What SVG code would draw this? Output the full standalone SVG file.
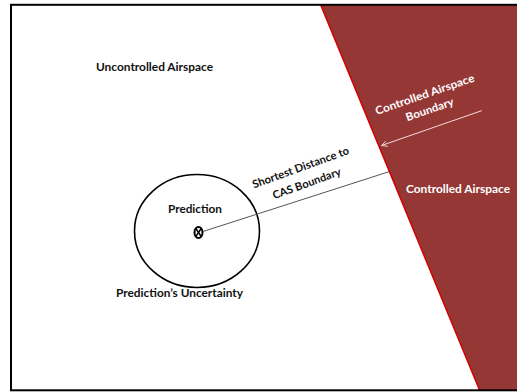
<svg xmlns="http://www.w3.org/2000/svg" width="517" height="392" viewBox="0 0 517 392">
<style>
  .lbl { font-family: Lato, "Open Sans", "Liberation Sans", sans-serif; font-weight: bold; font-size: 11px; }
  .dark { fill: #111111; }
  .light { fill: #ffffff; }
</style>
<defs>
  <marker id="openArrow" viewBox="0 0 10 10" refX="9" refY="5" markerWidth="7" markerHeight="7" orient="auto" markerUnits="userSpaceOnUse">
    <path d="M1,1 L9,5 L1,9" fill="none" stroke="#f2dcdb" stroke-width="1.2"/>
  </marker>
</defs>
<rect x="0" y="0" width="517" height="392" fill="#ffffff"/>
<g id="controlled-airspace">
  <polygon points="320.7,5 517,5 517,390 479.5,390" fill="#953735"/>
  <line x1="320.7" y1="5" x2="479.5" y2="390" stroke="#d40000" stroke-width="1.5"/>
  <text class="lbl light" x="406" y="192.5" textLength="104" lengthAdjust="spacingAndGlyphs">Controlled Airspace</text>
</g>
<rect x="11" y="4.8" width="520" height="385.5" fill="none" stroke="#000000" stroke-width="2"/>
<g id="uncontrolled-airspace">
  <text class="lbl dark" x="96" y="71" textLength="117" lengthAdjust="spacingAndGlyphs">Uncontrolled Airspace</text>
</g>
<g id="uncertainty">
  <ellipse cx="197" cy="231" rx="62.5" ry="56.5" fill="none" stroke="#000000" stroke-width="1.6"/>
  <text class="lbl dark" x="116" y="296.5" textLength="127" lengthAdjust="spacingAndGlyphs">Prediction’s Uncertainty</text>
</g>
<g id="prediction">
  <ellipse cx="198.5" cy="232.5" rx="4" ry="5.5" fill="none" stroke="#000000" stroke-width="2"/>
  <line x1="195.8" y1="228.5" x2="201.2" y2="236.5" stroke="#000000" stroke-width="1.4"/>
  <line x1="201.2" y1="228.5" x2="195.8" y2="236.5" stroke="#000000" stroke-width="1.4"/>
  <text class="lbl dark" x="168" y="212.5" textLength="54" lengthAdjust="spacingAndGlyphs">Prediction</text>
</g>
<g id="connectors">
  <line x1="203" y1="231.5" x2="389" y2="171.7" stroke="#555555" stroke-width="1"/>
  <line x1="481.7" y1="110.7" x2="381.5" y2="145.5" stroke="#f2dcdb" stroke-width="1" marker-end="url(#openArrow)"/>
</g>
<g id="distance-label">
  <text class="lbl dark" text-anchor="middle" x="302" y="171" transform="rotate(-20 302 171)" textLength="102" lengthAdjust="spacingAndGlyphs">Shortest Distance to</text>
  <text class="lbl dark" text-anchor="middle" x="308" y="187" transform="rotate(-20 308 187)" textLength="72" lengthAdjust="spacingAndGlyphs">CAS Boundary</text>
</g>
<g id="boundary-label">
  <text class="lbl light" text-anchor="middle" x="426" y="98" transform="rotate(-19 426 98)" textLength="104" lengthAdjust="spacingAndGlyphs">Controlled Airspace</text>
  <text class="lbl light" text-anchor="middle" x="431" y="113" transform="rotate(-19 431 113)" textLength="50" lengthAdjust="spacingAndGlyphs">Boundary</text>
</g>
</svg>
